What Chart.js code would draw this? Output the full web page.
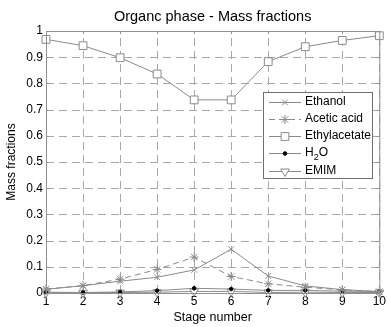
<!DOCTYPE html>
<html>
<head>
<meta charset="utf-8">
<script src="https://cdn.jsdelivr.net/npm/chart.js@4/dist/chart.umd.min.js"></script>
<style>
  body { margin: 0; background: #fff; }
  #wrap { width: 387px; height: 327px; }
</style>
</head>
<body>
<div id="wrap"><canvas id="chart" width="387" height="327"></canvas></div>
<script>
// Valores (frações mássicas por estágio)
const stages = [1, 2, 3, 4, 5, 6, 7, 8, 9, 10];
const ethanol = [0.014, 0.028, 0.045, 0.060, 0.088, 0.167, 0.065, 0.027, 0.013, 0.005];
const aceticAcid = [0.015, 0.028, 0.053, 0.090, 0.137, 0.063, 0.035, 0.022, 0.012, 0.005];
const ethylacetate = [0.968, 0.944, 0.898, 0.836, 0.737, 0.737, 0.883, 0.940, 0.964, 0.982];
const water = [0.003, 0.002, 0.004, 0.009, 0.018, 0.015, 0.010, 0.010, 0.007, 0.006];
const emim = [0.001, 0.001, 0.002, 0.003, 0.006, 0.006, 0.002, 0.003, 0.002, 0.002];
const seriesNames = ['Ethanol', 'Acetic acid', 'Ethylacetate', 'H2O', 'EMIM'];

const lineColor = '#8a8a8a';
const gridColor = '#a8a8a8';
const font = 'Arial, "Liberation Sans", sans-serif';

function pts(values) {
    return stages.map((s, i) => ({ x: s, y: values[i] }));
}

// Grade tracejada desenhada antes das séries
const gridPlugin = {
    id: 'dashGrid',
    beforeDatasetsDraw(chart) {
        const { ctx, chartArea: a, scales } = chart;
        ctx.save();
        ctx.strokeStyle = gridColor;
        ctx.lineWidth = 1;
        ctx.setLineDash([8, 5]);
        scales.x.ticks.forEach(t => {
            const px = Math.round(scales.x.getPixelForValue(t.value)) + 0.5;
            ctx.beginPath();
            ctx.moveTo(px, a.bottom);
            ctx.lineTo(px, a.top);
            ctx.stroke();
        });
        scales.y.ticks.forEach(t => {
            const py = Math.round(scales.y.getPixelForValue(t.value)) + 0.5;
            ctx.beginPath();
            ctx.moveTo(a.left, py);
            ctx.lineTo(a.right, py);
            ctx.stroke();
        });
        ctx.setLineDash([]);
        ctx.strokeStyle = '#909090';
        scales.x.ticks.forEach(t => {
            const px = Math.round(scales.x.getPixelForValue(t.value)) + 0.5;
            ctx.beginPath();
            ctx.moveTo(px, a.bottom);
            ctx.lineTo(px, a.bottom - 3);
            ctx.moveTo(px, a.top);
            ctx.lineTo(px, a.top + 3);
            ctx.stroke();
        });
        scales.y.ticks.forEach(t => {
            const py = Math.round(scales.y.getPixelForValue(t.value)) + 0.5;
            ctx.beginPath();
            ctx.moveTo(a.left, py);
            ctx.lineTo(a.left + 3, py);
            ctx.moveTo(a.right, py);
            ctx.lineTo(a.right - 3, py);
            ctx.stroke();
        });
        ctx.restore();
    }
};

// Caixa dos eixos e título
const framePlugin = {
    id: 'frame',
    afterDraw(chart) {
        const { ctx, chartArea: a } = chart;
        ctx.save();
        ctx.strokeStyle = '#909090';
        ctx.lineWidth = 1;
        ctx.strokeRect(a.left + 0.5, a.top + 0.5, a.right - a.left, a.bottom - a.top);
        ctx.fillStyle = '#000';
        ctx.font = '14.5px ' + font;
        ctx.textAlign = 'center';
        ctx.textBaseline = 'middle';
        ctx.fillText('Organc phase - Mass fractions', (a.left + a.right) / 2, 17);
        ctx.restore();
    }
};

// Legenda dentro da área do gráfico
const legendPlugin = {
    id: 'boxLegend',
    afterDraw(chart) {
        const { ctx } = chart;
        const x0 = 263, y0 = 92, w = 109, h = 86;
        const rows = [102, 119, 136, 153, 171];
        ctx.save();
        ctx.fillStyle = '#fff';
        ctx.fillRect(x0, y0, w, h);
        ctx.strokeStyle = '#707070';
        ctx.lineWidth = 1;
        ctx.strokeRect(x0 + 0.5, y0 + 0.5, w, h);
        chart.data.datasets.forEach((ds, i) => {
            const y = rows[i];
            ctx.strokeStyle = ds.borderColor;
            ctx.lineWidth = 1;
            ctx.setLineDash(ds.borderDash || []);
            ctx.beginPath();
            ctx.moveTo(x0 + 6, y + 0.5);
            ctx.lineTo(x0 + 38, y + 0.5);
            ctx.stroke();
            ctx.setLineDash([]);
            ctx.fillStyle = ds.pointBackgroundColor;
            ctx.strokeStyle = ds.pointBorderColor;
            Chart.helpers.drawPoint(ctx, {
                pointStyle: ds.pointStyle,
                radius: ds.pointRadius,
                rotation: ds.pointRotation || 0,
                borderWidth: 1
            }, x0 + 22, y + 0.5);
            ctx.fillStyle = '#000';
            ctx.font = '12px ' + font;
            ctx.textAlign = 'left';
            ctx.textBaseline = 'middle';
            const tx = x0 + 42;
            if (ds.label === 'H2O') {
                ctx.fillText('H', tx, y);
                const hw = ctx.measureText('H').width;
                ctx.font = '9px ' + font;
                ctx.fillText('2', tx + hw, y + 5);
                const sw = ctx.measureText('2').width;
                ctx.font = '12px ' + font;
                ctx.fillText('O', tx + hw + sw, y);
            } else {
                ctx.fillText(ds.label, tx, y);
            }
        });
        ctx.restore();
    }
};

const base = {
    borderColor: lineColor,
    borderWidth: 1,
    pointBorderColor: lineColor,
    pointBorderWidth: 1,
    pointBackgroundColor: 'rgba(0,0,0,0)',
    tension: 0,
    clip: false
};

const ctx = document.getElementById('chart').getContext('2d');
const myChart = new Chart(ctx, {
    type: 'line',
    data: {
        datasets: [
            Object.assign({}, base, { label: seriesNames[0], data: pts(ethanol), pointStyle: 'crossRot', pointRadius: 4 }),
            Object.assign({}, base, { label: seriesNames[1], data: pts(aceticAcid), pointStyle: 'star', pointRadius: 4.5, borderDash: [6, 4] }),
            Object.assign({}, base, { label: seriesNames[2], data: pts(ethylacetate), pointStyle: 'rect', pointRadius: 5.5, pointBackgroundColor: '#fff' }),
            Object.assign({}, base, { label: seriesNames[3], data: pts(water), pointStyle: 'circle', pointRadius: 1.8, pointBackgroundColor: '#000', pointBorderColor: '#000' }),
            Object.assign({}, base, { label: seriesNames[4], data: pts(emim), pointStyle: 'triangle', pointRadius: 5, pointRotation: 180, pointBackgroundColor: '#fff' })
        ]
    },
    options: {
        responsive: false,
        animation: false,
        layout: { padding: { top: 31, right: 7, left: 0, bottom: 0 } },
        plugins: {
            legend: { display: false },
            title: { display: false },
            tooltip: { enabled: false }
        },
        scales: {
            x: {
                type: 'linear',
                min: 1,
                max: 10,
                afterFit: s => { s.height = 34; },
                ticks: { stepSize: 1, color: '#000', font: { size: 12, family: font }, padding: 1 },
                grid: { display: false, drawTicks: false },
                border: { display: false },
                title: { display: true, text: 'Stage number', color: '#000', font: { size: 12.5, family: font }, padding: { top: 1, bottom: 2 } }
            },
            y: {
                min: 0,
                max: 1,
                afterFit: s => { s.width = 46; },
                ticks: {
                    stepSize: 0.1,
                    color: '#000',
                    font: { size: 12, family: font },
                    padding: 3,
                    callback: v => String(Math.round(v * 10) / 10)
                },
                grid: { display: false, drawTicks: false },
                border: { display: false },
                title: { display: true, text: 'Mass fractions', color: '#000', font: { size: 12, family: font }, padding: { top: 4, bottom: 0 } }
            }
        }
    },
    plugins: [gridPlugin, framePlugin, legendPlugin]
});
</script>
</body>
</html>
